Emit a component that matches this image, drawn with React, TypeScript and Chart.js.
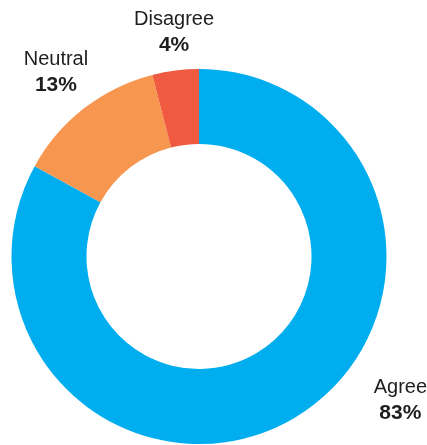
import React, { useEffect, useRef } from "react";
import { Chart, registerables } from "chart.js";

Chart.register(...registerables);

const categories = ["Agree", "Neutral", "Disagree"];
const values = [83, 13, 4];
const valueLabels = ["83%", "13%", "4%"];
const colors = ["#00AEEF", "#F7964F", "#F05A41"];

// label anchor offsets (first-line baseline centre) relative to the arc centre, in units of the outer radius
const labelAnchors = [
  { dx: 1.074, dy: 0.726 },
  { dx: -0.763, dy: -1.024 },
  { dx: -0.133, dy: -1.237 },
];

const labelPlugin = {
  id: "sliceLabels",
  afterDatasetsDraw(chart: any) {
    const meta = chart.getDatasetMeta(0);
    const ctx = chart.ctx;
    ctx.save();
    ctx.textAlign = "center";
    ctx.textBaseline = "alphabetic";
    ctx.fillStyle = "#1e1e1e";
    meta.data.forEach((arc: any, i: number) => {
      const a = labelAnchors[i];
      const x = arc.x + a.dx * arc.outerRadius;
      const y = arc.y + a.dy * arc.outerRadius;
      ctx.font = "20px 'Liberation Sans', Arial, sans-serif";
      ctx.fillText(categories[i], x, y);
      ctx.font = "bold 21px 'Liberation Sans', Arial, sans-serif";
      ctx.fillText(valueLabels[i], x, y + 26);
    });
    ctx.restore();
  },
};

export default function App() {
  const ref = useRef<HTMLCanvasElement | null>(null);
  useEffect(() => {
    document.body.style.margin = "0";
    if (!ref.current) return;
    const chart = new Chart(ref.current, {
      type: "doughnut",
      data: {
        labels: categories,
        datasets: [
          {
            data: values,
            backgroundColor: colors,
            borderWidth: 0,
            hoverOffset: 0,
            offset: 0,
          },
        ],
      },
      options: {
        animation: false,
        responsive: false,
        cutout: "60%",
        layout: { padding: { left: 11, right: 40, top: 69, bottom: 1 } },
        plugins: {
          legend: { display: false },
          tooltip: { enabled: false },
        },
      },
      plugins: [labelPlugin],
    });
    return () => chart.destroy();
  }, []);
  return (
    <div style={{ position: "fixed", left: 0, top: 0, width: 427, height: 445, background: "#fff" }}>
      <canvas ref={ref} width={427} height={445} style={{ display: "block" }} />
    </div>
  );
}
